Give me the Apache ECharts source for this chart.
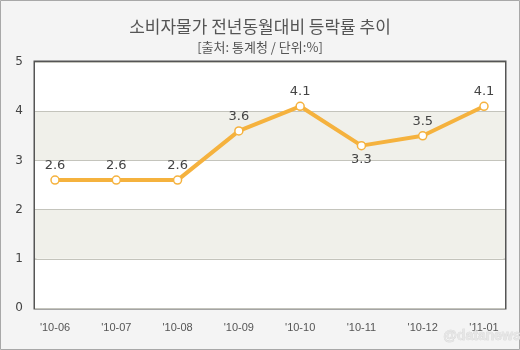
<!DOCTYPE html>
<html><head><meta charset="utf-8">
<script src="https://cdn.jsdelivr.net/npm/echarts@6/dist/echarts.min.js"></script>
<style>html,body{margin:0;padding:0;background:#f4f4f4}#c{width:520px;height:350px}</style>
</head><body><div id="c"></div>
<script>
const categories = ["'10-06","'10-07","'10-08","'10-09","'10-10","'10-11","'10-12","'11-01"];
const values = [2.6, 2.6, 2.6, 3.6, 4.1, 3.3, 3.5, 4.1];
const yTicks = [0, 1, 2, 3, 4, 5];
const labelBelow = [false, false, false, false, false, true, false, false];

const chart = echarts.init(document.getElementById('c'), null, {renderer: 'canvas'});
const fontFam = 'DejaVu Sans, Verdana, sans-serif';
chart.setOption({
  backgroundColor: '#f4f4f4',
  animation: false,
  title: [{
    text: '소비자물가 전년동월대비 등락률 추이',
    left: 'center', top: 13,
    textStyle: {fontFamily: 'Noto Sans CJK KR', fontSize: 17, fontWeight: 'normal', color: '#555'}
  }, {
    text: '[출처: 통계청 / 단위:%]',
    left: 'center', top: 36,
    textStyle: {fontFamily: 'Noto Sans CJK KR', fontSize: 13, fontWeight: 'normal', color: '#555'}
  }],
  grid: [
    {left: 35, right: 15, top: 62, bottom: 42, show: true, backgroundColor: '#fff', borderColor: '#555', borderWidth: 3, containLabel: false, z: 0},
    {left: 55, right: 36, top: 62, bottom: 42, containLabel: false}
  ],
  xAxis: [
    {gridIndex: 0, type: 'value', min: 0, max: 1, show: false},
    {gridIndex: 1, type: 'category', data: categories, boundaryGap: false,
     axisLine: {show: false}, axisTick: {show: false}, splitLine: {show: false},
     axisLabel: {margin: 14, color: '#555', fontSize: 11, fontFamily: 'Liberation Sans, Arial, sans-serif', interval: 0}}
  ],
  yAxis: [
    {gridIndex: 0, type: 'value', min: yTicks[0], max: yTicks[yTicks.length-1], interval: 1,
     axisLine: {show: false}, axisTick: {show: false},
     axisLabel: {margin: 12, color: '#444', fontSize: 12, fontFamily: fontFam},
     splitLine: {show: true, lineStyle: {color: '#c4c4bc', width: 1}},
     splitArea: {show: true, areaStyle: {color: ['#ffffff', '#f0f0ea']}}},
    {gridIndex: 1, type: 'value', min: yTicks[0], max: yTicks[yTicks.length-1], interval: 1, show: false, splitLine: {show: false}}
  ],
  series: [{
    type: 'line', xAxisIndex: 1, yAxisIndex: 1, data: values.map((v, i) => ({
      value: v,
      label: {position: labelBelow[i] ? 'bottom' : 'top', distance: labelBelow[i] ? 3 : 3}
    })),
    lineStyle: {color: '#f5b23e', width: 4},
    itemStyle: {color: '#ffffff', borderColor: '#f5b23e', borderWidth: 1.5},
    symbol: 'circle', symbolSize: 8, z: 5,
    label: {show: true, color: '#444', fontSize: 13, fontFamily: fontFam, formatter: p => p.value.toFixed(1)}
  }],
  graphic: [
    {type: 'rect', shape: {x: 0.5, y: 0.5, width: 519, height: 349}, style: {fill: 'none', stroke: '#a8a8a8', lineWidth: 1}, silent: true, z: 100},
    {type: 'text', left: 443, top: 329, style: {text: '@datanews', fill: '#e6e6e6', stroke: '#cfcfcf', lineWidth: 0.5, font: 'bold 14px Liberation Sans, Arial'}, z: 100}
  ]
});
</script>
</body></html>
